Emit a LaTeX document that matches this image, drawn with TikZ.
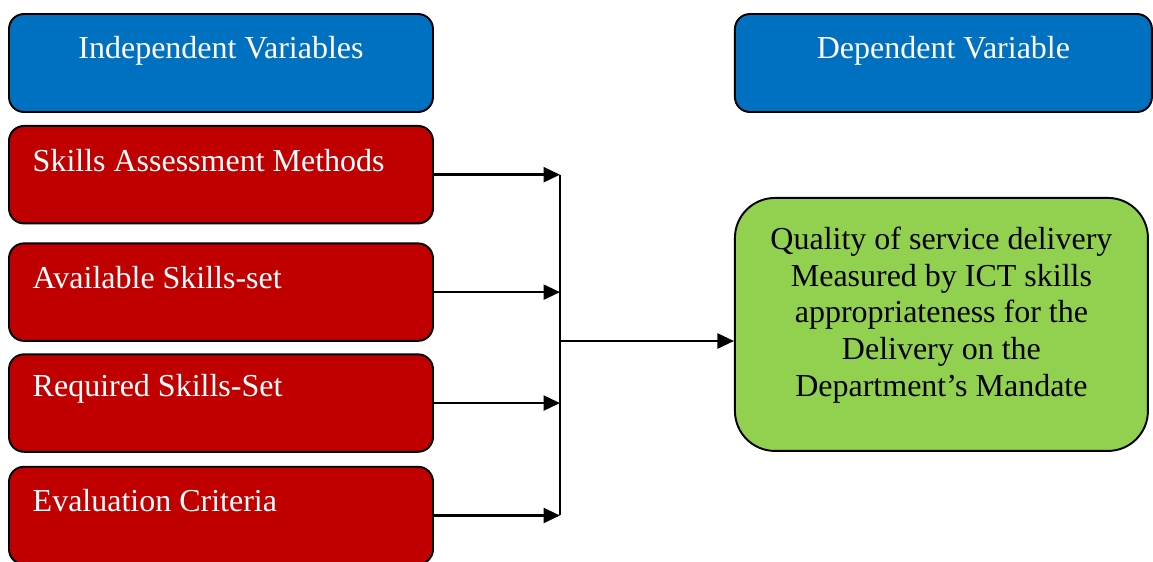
\documentclass[tikz,border=0pt]{standalone}
\usepackage{fontspec}
\setmainfont{Liberation Serif}
\usetikzlibrary{positioning,arrows.meta}
\definecolor{IV_BLUE}{HTML}{0070C0}
\definecolor{IV_RED}{HTML}{C00000}
\definecolor{DV_GREEN}{HTML}{92D050}
\tikzstyle{box} = [rectangle, draw=black, line width=1.1pt, rounded corners=0.3cm]
\tikzstyle{head_box} = [box, fill=IV_BLUE, minimum width=8.48cm, minimum height=1.96cm]
\tikzstyle{var_box} = [box, fill=IV_RED, minimum width=8.48cm, minimum height=1.95cm]
\tikzstyle{out_box} = [box, fill=DV_GREEN, rounded corners=0.8cm, minimum width=8.26cm, minimum height=5.06cm]
\tikzstyle{head_text} = [text=white, yshift=0.24cm]
\tikzstyle{var_text} = [text=white, anchor=west, xshift=0.37cm, yshift=0.29cm]
\tikzstyle{link} = [line width=1.4pt, -{Triangle[length=0.33cm,width=0.3cm]}]

\begin{document}
\begin{tikzpicture}[font=\fontsize{18.2}{20.9}\selectfont]
      \clip (0,0) rectangle (23.06,-11.22);

      % headers
      \node[head_box, label={[head_text]center:Independent Variables}] (IV) at (4.42,-1.26) {};
      \node[head_box, minimum width=8.34cm, right=6.0cm of IV, label={[head_text]center:Dependent Variable}] (DV) {};

      % independent variables
      \node[var_box, below=0.24cm of IV, label={[var_text]west:Skills Assessment Methods}] (SAM) {};
      \node[var_box, below=0.36cm of SAM, label={[var_text]west:Available Skills-set}] (ASS) {};
      \node[var_box, below=0.23cm of ASS, label={[var_text]west:Required Skills-Set}] (RSS) {};
      \node[var_box, below=0.26cm of RSS, label={[var_text]west:Evaluation Criteria}] (EC) {};

      % dependent variable
      \node[out_box, below right=1.68cm and 0cm of DV.south west,
            label={[align=center, yshift=0.19cm]center:Quality of service delivery\\Measured by ICT skills\\appropriateness for the\\Delivery on the\\Department’s Mandate}] (QSD) {};

      % connectors
      \coordinate (bus) at (11.2,-6.82);
      \draw[link] (SAM.east) -- (SAM.east -| bus);
      \draw[link] (ASS.east) -- (ASS.east -| bus);
      \draw[link] (RSS.east) -- (RSS.east -| bus);
      \draw[link] (EC.east) -- (EC.east -| bus);
      \draw[line width=1.4pt] (SAM.east -| bus) -- (EC.east -| bus);
      \draw[link] (bus) -- (bus -| QSD.west);
\end{tikzpicture}
\end{document}
